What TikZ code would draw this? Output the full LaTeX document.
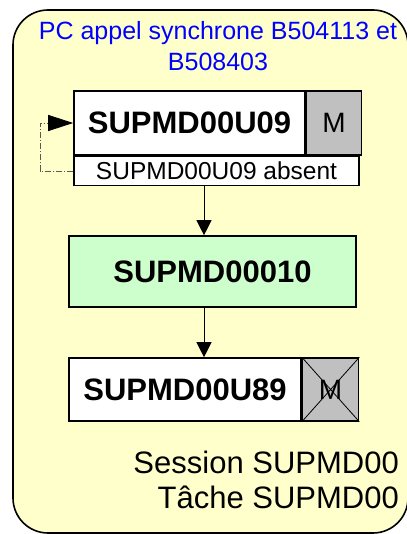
\documentclass[tikz,border=0pt]{standalone}
\usepackage{fontspec}
\setmainfont{Liberation Sans}
\usepackage[table]{xcolor}
\usetikzlibrary{positioning,arrows.meta}
\definecolor{sessfill}{HTML}{FFFFCC}
\definecolor{jobfill}{HTML}{CCFFCC}
\definecolor{mfill}{HTML}{C0C0C0}

\begin{document}
\begin{tikzpicture}[x=1pt,y=-1pt,node distance=0pt,
  box/.style={rectangle,draw,line width=1.6pt,inner sep=0pt,fill=white},
  big/.style={font=\fontsize{31}{31}\selectfont\bfseries},
  flow/.style={-{Triangle[length=15pt,width=15pt]},line width=0.8pt}]
\useasboundingbox (0,0) rectangle (406,534);
\draw[fill=sessfill,line width=1.6pt,rounded corners=35pt] (13,10) rectangle (408,533);
\node[blue,align=center,inner sep=0pt,font=\fontsize{25}{31}\selectfont] (title) at (218,46) {PC appel synchrone B504113 et\\B508403};
\node[box,big,minimum width=231pt,minimum height=64pt] (U09) at (189.5,123) {SUPMD00U09};
\node[box,fill=mfill,minimum width=55pt,minimum height=64pt,right=of U09,font=\fontsize{28}{28}\selectfont] (M09) {M};
\node[box,minimum width=285pt,minimum height=29pt,below=of U09.south west,anchor=north west,font=\fontsize{24.5}{25}\selectfont] (abs) {SUPMD00U09 absent};
\node[box,big,fill=jobfill,minimum width=287pt,minimum height=71pt] (J10) at (212.5,271.5) {SUPMD00010};
\node[box,big,minimum width=232pt,minimum height=63pt] (U89) at (185,389.5) {SUPMD00U89};
\node[box,fill=mfill,minimum width=56pt,minimum height=63pt,right=of U89,font=\fontsize{28}{28}\selectfont] (M89) {M};
\draw[line width=0.8pt] (M89.north west) -- (M89.south east) (M89.south west) -- (M89.north east);
\node[anchor=east,align=right,inner sep=0pt,font=\fontsize{31}{35}\selectfont] (sess) at (399,479.5) {Session SUPMD00\\T\^ache SUPMD00};
\coordinate (ax) at (204,0);
\coordinate (lx) at (40,0);
\draw[flow] (ax |- abs.south) -- (ax |- J10.north);
\draw[flow] (ax |- J10.south) -- (ax |- U89.north);
\draw[gray!70!black,line width=0.8pt,dash pattern=on 6pt off 2pt on 1pt off 2pt,-{Triangle[length=25pt,width=16pt,fill=black,color=black]}]
  (abs.west) -- (lx |- abs.west) -- (lx |- U09.west) -- (U09.west);
\end{tikzpicture}
\end{document}
